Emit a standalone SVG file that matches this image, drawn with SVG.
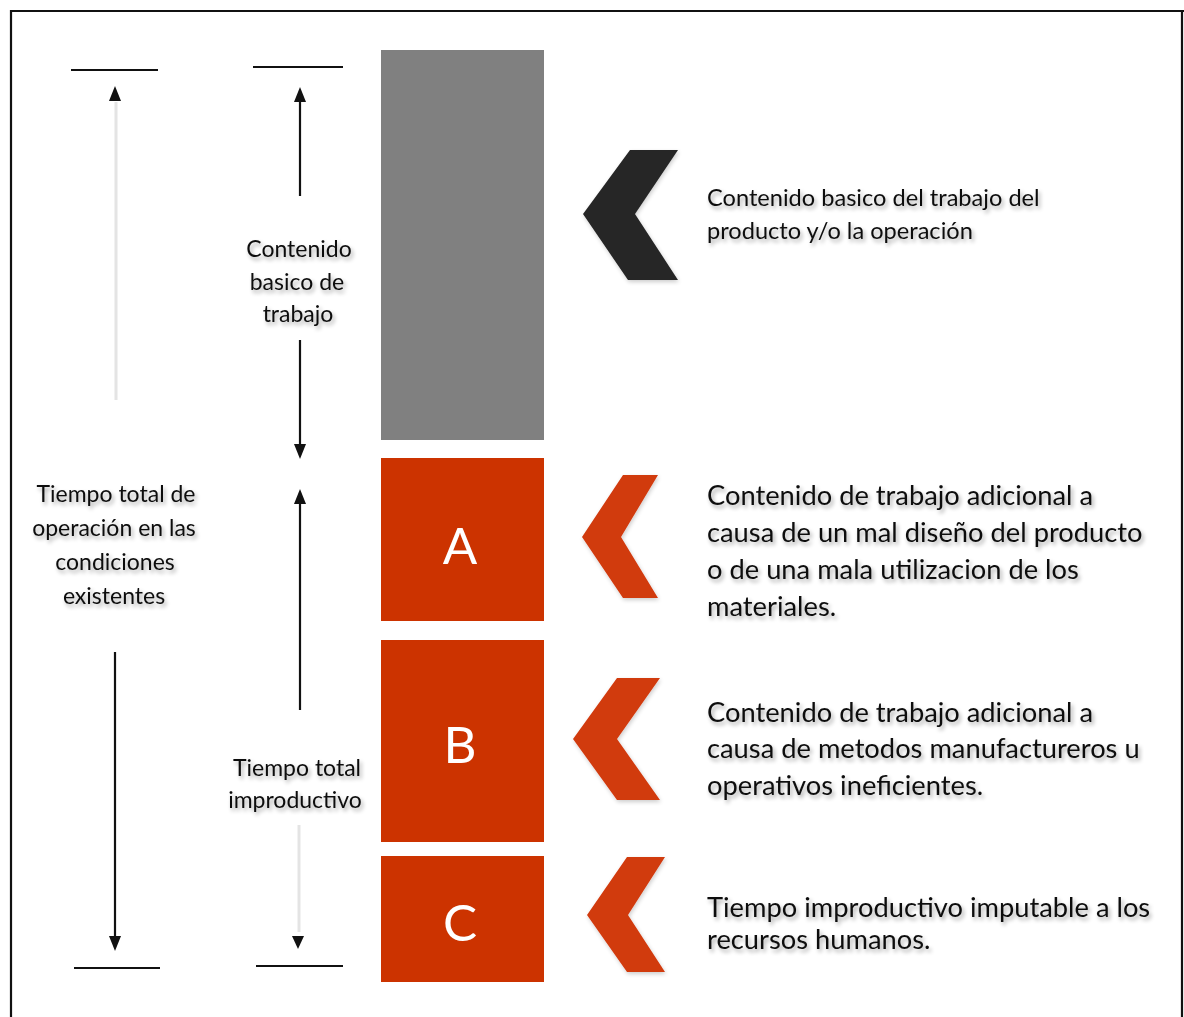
<svg xmlns="http://www.w3.org/2000/svg" width="1184" height="1017" viewBox="0 0 1184 1017">
<defs>
<filter id="ts" x="-10%" y="-30%" width="130%" height="180%">
<feGaussianBlur in="SourceAlpha" stdDeviation="2.2"/>
<feOffset dx="2" dy="3" result="b"/>
<feComponentTransfer><feFuncA type="linear" slope="0.35"/></feComponentTransfer>
<feMerge><feMergeNode/><feMergeNode in="SourceGraphic"/></feMerge>
</filter>
<filter id="ss" x="-20%" y="-20%" width="140%" height="140%">
<feGaussianBlur in="SourceAlpha" stdDeviation="2"/>
<feOffset dx="1" dy="2" result="b"/>
<feComponentTransfer><feFuncA type="linear" slope="0.2"/></feComponentTransfer>
<feMerge><feMergeNode/><feMergeNode in="SourceGraphic"/></feMerge>
</filter>
</defs>
<style>
.t{font-family:Lato,"Liberation Sans",sans-serif;fill:#111;filter:url(#ts)}
.s{font-size:23px}
.d{font-size:23.6px}
.m{font-size:27.3px}
.l{font-size:51px;fill:#fff;font-family:Lato,"Liberation Sans",sans-serif;text-anchor:middle}
.c{text-anchor:middle}
.k{stroke:#111;stroke-width:2.2;fill:none}
.f{stroke:#e4e4e4;stroke-width:3;fill:none}
.h{fill:#111}
.red{fill:#cc3300}
.rc{fill:#d13a10;filter:url(#ss)}
</style>
<rect width="1184" height="1017" fill="#fff"/>
<g id="frame" fill="none" stroke="#111" stroke-width="2.2">
<line x1="10" y1="11" x2="1184" y2="11"/>
<line x1="11" y1="10" x2="11" y2="1017"/>
<line x1="1182" y1="10" x2="1182" y2="1017"/>
</g>
<g id="connectors">
<line class="k" x1="71" y1="70" x2="158" y2="70"/>
<polygon class="h" points="115,86 109,101 121,101"/>
<line class="f" x1="116" y1="102" x2="116" y2="400"/>
<line class="k" x1="115" y1="652" x2="115" y2="938"/>
<polygon class="h" points="115,951 109,936 121,936"/>
<line class="k" x1="74" y1="968" x2="160" y2="968"/>
<line class="k" x1="253" y1="67" x2="343" y2="67"/>
<polygon class="h" points="300,87 294,102 306,102"/>
<line class="k" x1="300" y1="101" x2="300" y2="196"/>
<line class="k" x1="300" y1="340" x2="300" y2="445"/>
<polygon class="h" points="300,459 294,444 306,444"/>
<polygon class="h" points="300,489 294,504 306,504"/>
<line class="k" x1="300" y1="503" x2="300" y2="710"/>
<line class="f" x1="299" y1="825" x2="299" y2="932"/>
<polygon class="h" points="298,949 292,936 304,936"/>
<line class="k" x1="256" y1="966" x2="343" y2="966"/>
</g>
<g id="label-total">
<text class="t s c" x="116" y="502">Tiempo total de</text>
<text class="t s c" x="114" y="536">operación en las</text>
<text class="t s c" x="115" y="570">condiciones</text>
<text class="t s c" x="114" y="604">existentes</text>
</g>
<g id="label-basico">
<text class="t s c" x="299" y="257">Contenido</text>
<text class="t s c" x="297" y="290">basico de</text>
<text class="t s c" x="298" y="322">trabajo</text>
</g>
<g id="label-improductivo">
<text class="t s c" x="297" y="776">Tiempo total</text>
<text class="t s c" x="295" y="808">improductivo</text>
</g>
<g id="bar-basico"><rect x="381" y="50" width="163" height="390" fill="#808080"/></g>
<g id="bar-A"><rect class="red" x="381" y="458" width="163" height="163"/><text class="l" x="460" y="564">A</text></g>
<g id="bar-B"><rect class="red" x="381" y="640" width="163" height="202"/><text class="l" x="460" y="763">B</text></g>
<g id="bar-C"><rect class="red" x="381" y="856" width="163" height="126"/><text class="l" x="460" y="941">C</text></g>
<g id="chev-basico"><polygon points="630,150 678,150 635,214 678,280 628,280 583,214" fill="#262626" filter="url(#ss)"/></g>
<g id="chev-A"><polygon class="rc" points="623,475 658,475 621,537 658,598 623,598 582,537"/></g>
<g id="chev-B"><polygon class="rc" points="617,678 660,678 617,739 660,800 617,800 573,739"/></g>
<g id="chev-C"><polygon class="rc" points="627,857 665,857 628,915 665,972 627,972 587,915"/></g>
<g id="desc-basico">
<text class="t d" x="707" y="206">Contenido basico del trabajo del</text>
<text class="t d" x="707" y="239">producto y/o la operación</text>
</g>
<g id="desc-A">
<text class="t m" x="707" y="505">Contenido de trabajo adicional a</text>
<text class="t m" x="707" y="542">causa de un mal diseño del producto</text>
<text class="t m" x="707" y="579">o de una mala utilizacion de los</text>
<text class="t m" x="707" y="616">materiales.</text>
</g>
<g id="desc-B">
<text class="t m" x="707" y="722">Contenido de trabajo adicional a</text>
<text class="t m" x="707" y="758">causa de metodos manufactureros u</text>
<text class="t m" x="707" y="795">operativos ineficientes.</text>
</g>
<g id="desc-C">
<text class="t m" x="707" y="917">Tiempo improductivo imputable a los</text>
<text class="t m" x="707" y="949">recursos humanos.</text>
</g>
</svg>
